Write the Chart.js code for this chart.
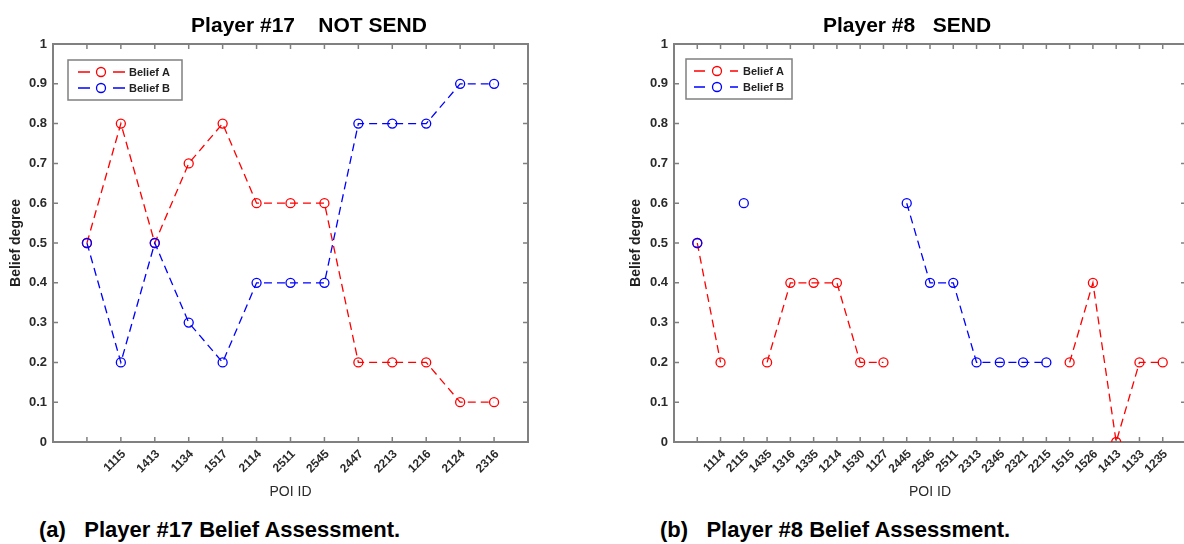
<!DOCTYPE html>
<html>
<head>
<meta charset="utf-8">
<script src="https://cdn.jsdelivr.net/npm/chart.js@4.4.0/dist/chart.umd.min.js"></script>
<style>
  html, body { margin: 0; padding: 0; background: #fff; overflow: hidden; width: 1184px; height: 544px; }
  .panel { position: absolute; top: 0; width: 600px; height: 510px; }
  #left-panel { left: 0; }
  #right-panel { left: 620px; }
  .title { position: absolute; top: 14px; font: bold 21px Arial, "Liberation Sans", sans-serif; line-height: 21px; white-space: pre; transform: translateX(-50%); color: #000; }
  .caption { position: absolute; top: 519px; font: bold 22px Arial, "Liberation Sans", sans-serif; line-height: 22px; white-space: pre; color: #000; }
</style>
</head>
<body>
<div class="panel" id="left-panel"><canvas id="leftChart"></canvas></div>
<div class="panel" id="right-panel"><canvas id="rightChart"></canvas></div>
<div class="title" style="left:309px">Player #17    NOT SEND</div>
<div class="title" style="left:907px">Player #8   SEND</div>
<div class="caption" style="left:39px">(a)   Player #17 Belief Assessment.</div>
<div class="caption" style="left:660px">(b)   Player #8 Belief Assessment.</div>

<script>
// Player #17 - POI visitati in ordine (il primo punto non ha etichetta)
const leftPoi = ['', '1115', '1413', '1134', '1517', '2114', '2511', '2545', '2447', '2213', '1216', '2124', '2316'];
const leftBeliefA = [0.5, 0.8, 0.5, 0.7, 0.8, 0.6, 0.6, 0.6, 0.2, 0.2, 0.2, 0.1, 0.1];
const leftBeliefB = [0.5, 0.2, 0.5, 0.3, 0.2, 0.4, 0.4, 0.4, 0.8, 0.8, 0.8, 0.9, 0.9];

// Player #8 - null dove la belief non viene aggiornata
const rightPoi = ['', '1114', '2115', '1435', '1316', '1335', '1214', '1530', '1127', '2445', '2545',
  '2511', '2313', '2345', '2321', '2215', '1515', '1526', '1413', '1133', '1235'];
const rightBeliefA = [0.5, 0.2, null, 0.2, 0.4, 0.4, 0.4, 0.2, 0.2, null, null,
  null, null, null, null, null, 0.2, 0.4, 0.0, 0.2, 0.2];
const rightBeliefB = [0.5, null, 0.6, null, null, null, null, null, null, 0.6, 0.4,
  0.4, 0.2, 0.2, 0.2, 0.2, null, null, null, null, null];

const seriesLabels = ['Belief A', 'Belief B'];
const seriesColors = ['#ff0000', '#0000ff'];

const FONT = 'Arial, "Liberation Sans", sans-serif';
const FRAME = '#808080';
const TEXT = '#2b2b2b';

// cornice e tacche interne su tutti e quattro i lati
const boxFrame = {
  id: 'boxFrame',
  beforeDatasetsDraw(chart) {
    const { ctx, chartArea: a, scales } = chart;
    const len = 5;
    ctx.save();
    ctx.strokeStyle = FRAME;
    ctx.lineWidth = 1.5;
    ctx.beginPath();
    scales.x.ticks.forEach(t => {
      if (t.value <= scales.x.min || t.value >= scales.x.max) return;
      const px = scales.x.getPixelForValue(t.value);
      ctx.moveTo(px, a.bottom); ctx.lineTo(px, a.bottom - len);
      ctx.moveTo(px, a.top); ctx.lineTo(px, a.top + len);
    });
    scales.y.ticks.forEach(t => {
      const py = scales.y.getPixelForValue(t.value);
      ctx.moveTo(a.left, py); ctx.lineTo(a.left + len, py);
      ctx.moveTo(a.right, py); ctx.lineTo(a.right - len, py);
    });
    ctx.stroke();
    ctx.lineWidth = 2;
    ctx.strokeRect(a.left, a.top, a.right - a.left, a.bottom - a.top);
    ctx.restore();
  }
};

// legenda nel riquadro in alto a sinistra, stile MATLAB
const beliefLegend = {
  id: 'beliefLegend',
  afterDraw(chart, args, opts) {
    const { ctx, chartArea: a } = chart;
    const x = a.left + opts.x, y = a.top + opts.y;
    ctx.save();
    ctx.fillStyle = '#fff';
    ctx.fillRect(x, y, opts.w, opts.h);
    ctx.strokeStyle = FRAME;
    ctx.lineWidth = 1.5;
    ctx.strokeRect(x, y, opts.w, opts.h);
    ctx.font = 'bold 11px ' + FONT;
    ctx.textBaseline = 'middle';
    seriesLabels.forEach((label, i) => {
      const cy = y + 12 + i * 16;
      ctx.strokeStyle = seriesColors[i];
      ctx.lineWidth = 1.3;
      ctx.beginPath();
      ctx.moveTo(x + opts.seg[0], cy); ctx.lineTo(x + opts.seg[1], cy);
      ctx.moveTo(x + opts.seg[2], cy); ctx.lineTo(x + opts.seg[3], cy);
      ctx.stroke();
      ctx.beginPath();
      ctx.arc(x + opts.dot, cy, 4.5, 0, Math.PI * 2);
      ctx.stroke();
      ctx.fillStyle = '#222';
      ctx.fillText(label, x + opts.textX, cy + 0.5);
    });
    ctx.restore();
  }
};

function toPoints(values) {
  return values.map((v, i) => ({ x: i + 1, y: v }));
}

function makeChart(canvasId, poi, beliefA, beliefB, geom) {
  const n = poi.length;
  const datasets = [beliefA, beliefB].map((values, i) => ({
    label: seriesLabels[i],
    data: toPoints(values),
    borderColor: seriesColors[i],
    borderWidth: 1.3,
    borderDash: [8, 5],
    pointStyle: 'circle',
    pointRadius: 4.5,
    pointBorderWidth: 1.3,
    pointBorderColor: seriesColors[i],
    pointBackgroundColor: 'rgba(0,0,0,0)',
    fill: false,
    tension: 0,
    order: 1 - i
  }));

  return new Chart(document.getElementById(canvasId), {
    type: 'line',
    data: { datasets },
    options: {
      responsive: true,
      maintainAspectRatio: false,
      animation: false,
      layout: { padding: { left: 0, top: 44, right: geom.padRight, bottom: 0 } },
      plugins: {
        legend: { display: false },
        tooltip: { enabled: false },
        beliefLegend: geom.legend
      },
      scales: {
        x: {
          type: 'linear',
          min: 0,
          max: n + 1,
          grid: { display: false, drawTicks: false },
          border: { display: false },
          afterFit: scale => { scale.height = 68; },
          ticks: {
            stepSize: 1,
            autoSkip: false,
            maxRotation: 45,
            minRotation: 45,
            padding: 5,
            labelOffset: 3,
            color: TEXT,
            font: { family: FONT, size: 12, weight: 'bold' },
            callback: v => (v >= 1 && v <= n) ? poi[v - 1] : ''
          },
          title: {
            display: true,
            text: 'POI ID',
            color: TEXT,
            font: { family: FONT, size: 14 },
            padding: { top: 0, bottom: 9 }
          }
        },
        y: {
          min: 0,
          max: 1,
          grid: { display: false, drawTicks: false },
          border: { display: false },
          afterFit: scale => { scale.width = geom.yWidth; },
          ticks: {
            stepSize: 0.1,
            padding: 6,
            color: TEXT,
            font: { family: FONT, size: 13, weight: 'bold' },
            callback: v => String(Number(v.toFixed(1)))
          },
          title: {
            display: true,
            text: 'Belief degree',
            color: '#222',
            font: { family: FONT, size: 14, weight: 'bold' },
            padding: { top: 8, bottom: 0 }
          }
        }
      }
    },
    plugins: [boxFrame, beliefLegend]
  });
}

makeChart('leftChart', leftPoi, leftBeliefA, leftBeliefB, {
  padRight: 72, yWidth: 53,
  legend: { x: 15, y: 16, w: 114, h: 40, seg: [10, 22, 45, 57], dot: 33, textX: 61 }
});

makeChart('rightChart', rightPoi, rightBeliefA, rightBeliefB, {
  padRight: 34, yWidth: 54,
  legend: { x: 12, y: 15, w: 106, h: 40, seg: [8, 19, 44, 52], dot: 31, textX: 57 }
});
</script>
</body>
</html>
